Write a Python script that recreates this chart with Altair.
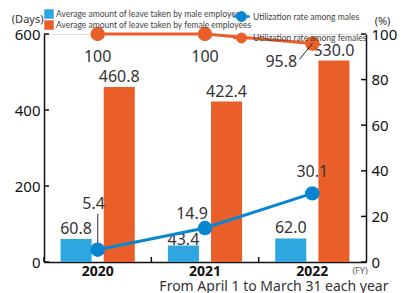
import altair as alt
import pandas as pd

years = ["2020", "2021", "2022"]
male_days = [60.8, 43.4, 62.0]
female_days = [460.8, 422.4, 530.0]
male_rate = [5.4, 14.9, 30.1]
female_rate = [100, 100, 95.8]
days_ticks = [0, 200, 400, 600]
rate_ticks = [0, 20, 40, 60, 80, 100]

s_male_bar = "Average amount of leave taken by male employees"
s_female_bar = "Average amount of leave taken by female employees"
s_male_line = "Utilization rate among males"
s_female_line = "Utilization rate among females"

BLUE_BAR = "#2ea7e0"
ORANGE = "#ea5e2a"
BLUE_LINE = "#0a86d0"
FONT = "Noto Sans"
LEG_FONT = "Lato"

bars_df = pd.DataFrame({
    "year": years * 2,
    "series": [s_male_bar] * 3 + [s_female_bar] * 3,
    "days": male_days + female_days,
    "label": [f"{v:.1f}" for v in male_days + female_days],
    "idx": list(range(6)),
})
rate_df = pd.DataFrame({
    "year": years * 2,
    "series": [s_male_line] * 3 + [s_female_line] * 3,
    "rate": male_rate + female_rate,
    "label": [f"{v:g}" for v in male_rate + female_rate],
    "idx": list(range(6)),
})
dticks_df = pd.DataFrame({"t": days_ticks})
rticks_df = pd.DataFrame({"t": rate_ticks})
year_df = pd.DataFrame({"year": years})

x_enc = alt.X("year:N", sort=years,
              scale=alt.Scale(paddingInner=0, paddingOuter=0),
              axis=alt.Axis(title="From April 1 to March 31 each year",
                            titleFont=FONT, titleFontSize=14, titleFontWeight="normal",
                            titleColor="#333", titleAnchor="end", titleAlign="right",
                            titleX=344, titleY=24, titleBaseline="middle",
                            labelFont=FONT, labelFontSize=14, labelFontWeight="bold",
                            labelColor="#111", labelAngle=0, labelPadding=2,
                            ticks=False, domainColor="#111", domainWidth=1.5))

days_scale = alt.Scale(domain=[0, 600], nice=False, zero=True)
rate_scale = alt.Scale(domain=[0, 100], nice=False, zero=True)

axis_left = alt.Axis(values=days_ticks, title="(Days)", titleAngle=0,
                     titleFont=FONT, titleFontSize=11, titleFontWeight="normal",
                     titleColor="#333", titleAlign="right", titleBaseline="middle",
                     titleX=-1, titleY=-15,
                     labelFont=FONT, labelFontSize=15, labelColor="#111",
                     labelPadding=4, ticks=False, grid=False,
                     domainColor="#111", domainWidth=1.5)
axis_right = alt.Axis(values=rate_ticks, title="(%)", titleAngle=0, orient="right",
                      titleFont=FONT, titleFontSize=11, titleFontWeight="normal",
                      titleColor="#333", titleAlign="center", titleBaseline="middle",
                      titleX=16, titleY=-13,
                      labelFont=FONT, labelFontSize=15, labelColor="#111",
                      labelPadding=5, ticks=False, grid=False,
                      domainColor="#111", domainWidth=1.5)

y_days = alt.Y("days:Q", scale=days_scale, axis=axis_left)
y_rate = alt.Y("rate:Q", scale=rate_scale, axis=axis_right)

off = alt.XOffset("series:N", sort=[s_male_bar, s_female_bar],
                  scale=alt.Scale(paddingInner=0.28, paddingOuter=0.384))

bars = alt.Chart(bars_df).mark_bar().encode(
    x=x_enc, xOffset=off, y=y_days,
    color=alt.Color("series:N", sort=[s_male_bar, s_female_bar],
                    scale=alt.Scale(domain=[s_male_bar, s_female_bar],
                                    range=[BLUE_BAR, ORANGE]),
                    legend=alt.Legend(title=None, orient="none", legendX=0, legendY=-25,
                                      symbolType="square", symbolSize=90,
                                      symbolStrokeWidth=0, labelFont=LEG_FONT,
                                      labelFontSize=8.5, labelColor="#444",
                                      labelOffset=2, rowPadding=1, padding=0,
                                      labelLimit=300)),
)

def bar_label(idxs, dy):
    return alt.Chart(bars_df).mark_text(font=FONT, fontSize=16, color="#333",
                                        baseline="middle", dy=dy).encode(
        x=x_enc, xOffset=off, y=y_days, text="label:N"
    ).transform_filter(alt.FieldOneOfPredicate(field="idx", oneOf=idxs))

bar_labels = [bar_label([0, 2, 3, 5], -10), bar_label([4], -9), bar_label([1], -6)]

left_ticks = alt.Chart(dticks_df).mark_rule(color="#111", strokeWidth=1.5).encode(
    y=alt.Y("t:Q", scale=days_scale, axis=axis_left),
    x=alt.value(0), x2=alt.value(5),
)
x_ticks = alt.Chart(year_df).mark_rule(color="#111", strokeWidth=1.5).encode(
    x=alt.X("year:N", sort=years, bandPosition=0,
            scale=alt.Scale(paddingInner=0, paddingOuter=0)),
    y=alt.value(223), y2=alt.value(228),
)

left = alt.layer(bars, *bar_labels, left_ticks, x_ticks)

line_scale = alt.Scale(domain=[s_male_line, s_female_line], range=[BLUE_LINE, ORANGE])
legend_path = ("M-1.14,0 L1.14,0 M-0.57,0 A0.57,0.57 0 1,0 0.57,0 "
               "A0.57,0.57 0 1,0 -0.57,0 Z")

def line_legend():
    return alt.Legend(title=None, orient="none", legendX=189, legendY=-26,
                      symbolType=legend_path, symbolSize=49, symbolStrokeWidth=2.5,
                      labelFont=LEG_FONT, labelFontSize=8.5, labelColor="#444",
                      labelOffset=3, rowPadding=2.5, padding=0, labelLimit=300)

lines = alt.Chart(rate_df).mark_line(strokeWidth=3).encode(
    x=x_enc, y=y_rate,
    stroke=alt.Stroke("series:N", scale=line_scale, legend=line_legend()),
    detail="series:N",
)

leaders = [
    alt.Chart(rate_df).mark_rule(color="#555", strokeWidth=1.2, y2Offset=-36).encode(
        x=x_enc, y=y_rate, y2="rate:Q"
    ).transform_filter(alt.datum.idx == 0),
    alt.Chart(rate_df).mark_rule(color="#222", strokeWidth=1, x2Offset=-13,
                                 y2Offset=16).encode(
        x=x_enc, x2="year:N", y=y_rate, y2="rate:Q"
    ).transform_filter(alt.datum.idx == 5),
]

points = alt.Chart(rate_df).mark_point(filled=True, opacity=1, strokeWidth=0).encode(
    x=x_enc, y=y_rate,
    fill=alt.Fill("series:N", scale=line_scale, legend=line_legend()),
    size=alt.Size("series:N", scale=alt.Scale(domain=[s_male_line, s_female_line],
                                              range=[210, 210]), legend=None),
)

def rate_label(idx, dx, dy):
    return alt.Chart(rate_df).mark_text(font=FONT, fontSize=16, color="#333",
                                        baseline="middle", dx=dx, dy=dy).encode(
        x=x_enc, y=y_rate, text="label:N"
    ).transform_filter(alt.datum.idx == idx)

rate_labels = [
    rate_label(0, -4, -46),
    rate_label(1, -13, -14),
    rate_label(2, 0, -21),
    rate_label(3, 0, 23),
    rate_label(4, 0, 23),
    rate_label(5, -31, 18),
]

right_ticks = alt.Chart(rticks_df).mark_rule(color="#111", strokeWidth=1.5).encode(
    y=alt.Y("t:Q", scale=rate_scale, axis=axis_right),
    x=alt.value(317), x2=alt.value(322),
)

right = alt.layer(lines, leaders[0], points, leaders[1], *rate_labels, right_ticks)

fy = alt.Chart(year_df).mark_text(font=FONT, fontSize=9, color="#555", text="(FY)").encode(
    x=alt.value(316), y=alt.value(237)
).transform_filter(alt.datum.year == "2020")

chart = alt.layer(left, right, fy).resolve_scale(y="independent").properties(
    width=322, height=228,
    padding={"left": 36, "top": 26, "right": 34, "bottom": 31},
    autosize=alt.AutoSizeParams(type="none"),
).configure_view(stroke=None).configure(background="white")

chart.save("out.html", embed_options={"renderer": "svg", "actions": False})
